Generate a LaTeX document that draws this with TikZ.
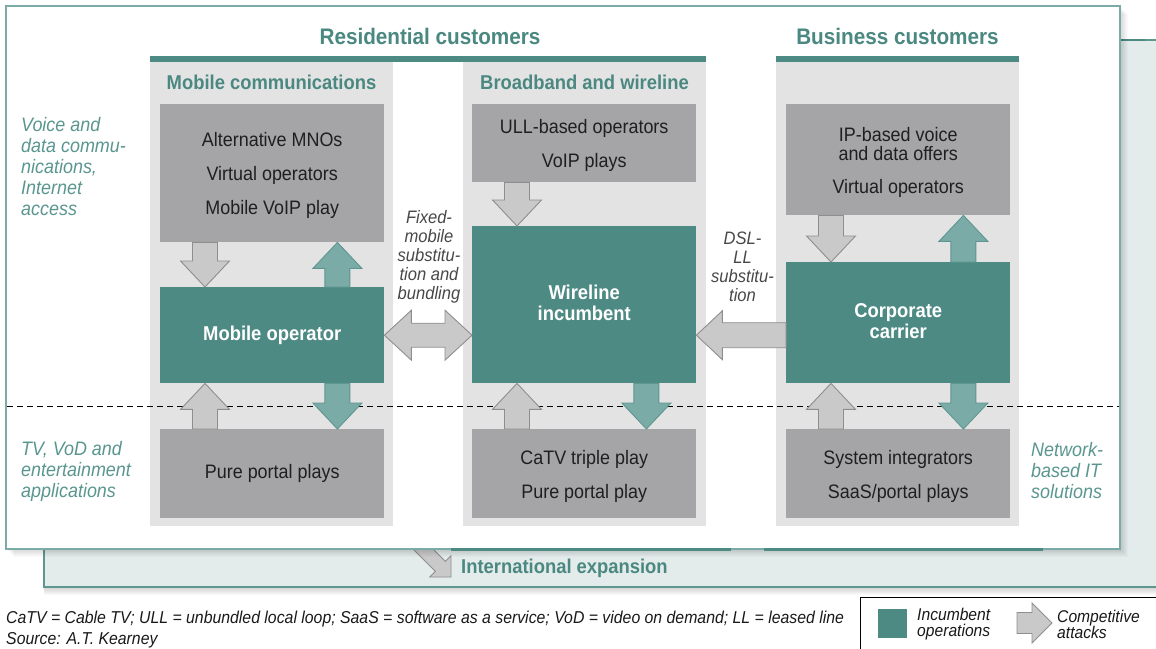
\documentclass[tikz,border=0pt]{standalone}
\usepackage{fontspec}
\setmainfont{Liberation Sans}[FakeStretch=0.92]
\usetikzlibrary{calc}

\definecolor{tealdark}{HTML}{4E8A84}
\definecolor{tealtext}{HTML}{4A8881}
\definecolor{teallight}{HTML}{7BABA6}
\definecolor{tealedge}{HTML}{5E9690}
\definecolor{boxgray}{HTML}{A5A5A7}
\definecolor{colgray}{HTML}{E3E3E3}
\definecolor{arrowgray}{HTML}{C9C9C9}
\definecolor{arrowedge}{HTML}{8E8E8E}
\definecolor{backfill}{HTML}{E3ECEB}
\definecolor{sidetext}{HTML}{5A9690}
\definecolor{notetext}{HTML}{484848}

% struts that nudge a multi-line block down (tall first line) or up (deep last line)
\newcommand\tallfirst{\rule{0pt}{19pt}}
\newcommand\deeplast{\rule[-4pt]{0pt}{4pt}}

% vertical block arrow: style, start point, tip point
\newcommand\vblock[3]{%
  \draw[#1] let \p1=#2, \p2=#3, \n1={(\y1-\y2)/abs(\y1-\y2)} in
    ({\x1-12.5pt},\y1) -- ({\x1-12.5pt},{\y2+\n1*26pt}) -- ({\x1-24.5pt},{\y2+\n1*26pt})
    -- (\x2,\y2) -- ({\x1+24.5pt},{\y2+\n1*26pt}) -- ({\x1+12.5pt},{\y2+\n1*26pt})
    -- ({\x1+12.5pt},\y1) -- cycle;}
% horizontal block arrow: style, start point, tip point
\newcommand\hblock[3]{%
  \draw[#1] let \p1=#2, \p2=#3, \n1={(\x1-\x2)/abs(\x1-\x2)} in
    (\x1,{\y1+12.5pt}) -- ({\x2+\n1*26pt},{\y1+12.5pt}) -- ({\x2+\n1*26pt},{\y1+24.5pt})
    -- (\x2,\y2) -- ({\x2+\n1*26pt},{\y1-24.5pt}) -- ({\x2+\n1*26pt},{\y1-12.5pt})
    -- (\x1,{\y1-12.5pt}) -- cycle;}
% horizontal double block arrow: style, left tip, right tip
\newcommand\dblock[3]{%
  \draw[#1] let \p1=#2, \p2=#3 in
    (\x1,\y1) -- ({\x1+27pt},{\y1+25pt}) -- ({\x1+27pt},{\y1+12pt}) -- ({\x2-27pt},{\y1+12pt})
    -- ({\x2-27pt},{\y1+25pt}) -- (\x2,\y2) -- ({\x2-27pt},{\y1-25pt}) -- ({\x2-27pt},{\y1-12pt})
    -- ({\x1+27pt},{\y1-12pt}) -- ({\x1+27pt},{\y1-25pt}) -- cycle;}

\tikzset{
  box/.style={fill=boxgray, minimum width=224pt, inner sep=0pt, anchor=north west,
    align=center, text=black!88, font=\fontsize{19.5}{34}\selectfont},
  incumbent/.style={fill=tealdark, minimum width=224pt, inner sep=0pt, anchor=north west,
    align=center, text=white, font=\bfseries\fontsize{20}{21}\selectfont},
  grayarrow/.style={fill=arrowgray, draw=arrowedge, line width=0.9pt, line join=miter},
  tealarrow/.style={fill=teallight, draw=tealedge, line width=0.9pt, line join=miter},
  bighead/.style={text=tealtext, font=\bfseries\fontsize{22.5}{24}\selectfont, inner sep=0pt},
  colhead/.style={text=tealtext, font=\bfseries\fontsize{20}{22}\selectfont, inner sep=0pt},
  sidelabel/.style={text=sidetext, font=\itshape\fontsize{19.5}{21}\selectfont,
    align=left, anchor=west, inner sep=0pt},
  arrowlabel/.style={text=notetext, font=\itshape\fontsize{18}{19}\selectfont,
    align=center, inner sep=0pt},
  footnote/.style={text=black!90, font=\itshape\fontsize{17.2}{21}\selectfont,
    anchor=west, inner sep=0pt},
  legendtext/.style={text=black!90, font=\itshape\fontsize{17}{16}\selectfont,
    align=left, anchor=west, inner sep=0pt}
}

\begin{document}
\begin{tikzpicture}[x=1pt,y=-1pt]
\useasboundingbox (0,0) rectangle (1156,648);

% rear panel with its shadow
\foreach \i in {1,...,8}
  \fill[black, opacity=0.022] (44,587) rectangle (1170,587+\i);
\draw[fill=backfill, draw=tealedge, line width=1.2pt] (44,40) rectangle (1170,587);
\draw[tealdark, line width=2pt] (1120,40) -- (1145,40);

% expansion arrow coming out from under the front panel
\draw[grayarrow] (406.45,522.55) -- (445.35,561.45) -- (451,555.8) -- (451,577)
  -- (429.8,577) -- (435.45,571.35) -- (396.55,532.45) -- cycle;
\node[text=tealtext, font=\bfseries\fontsize{20}{22}\selectfont, anchor=west, inner sep=0pt]
  (intl) at (461,568) {International expansion};

% front panel with its shadow
\foreach \i in {1,...,8}
  \fill[black, opacity=0.02] (6+\i,6+\i) rectangle (1120+\i,549+\i);
\draw[fill=white, draw=teallight, line width=2pt] (6,6) rectangle (1120,549);
\draw[tealdark, line width=3pt] (451,549.5) -- (731,549.5);
\draw[tealdark, line width=3pt] (764,549.5) -- (1043,549.5);

% column backgrounds and header bars
\fill[colgray] (150,62) rectangle (393,526);
\fill[colgray] (463,62) rectangle (706,526);
\fill[colgray] (776,62) rectangle (1019,526);
\fill[tealdark] (150,56) rectangle (706,62);
\fill[tealdark] (776,56) rectangle (1019,62);

% headers
\node[bighead] (resid) at (430,36) {Residential customers};
\node[bighead] (busi) at (897.5,36) {Business customers};
\node[colhead] (mobhead) at (271.5,82) {Mobile communications};
\node[colhead] (bbhead) at (584.5,82) {Broadband and wireline};

% segment boundary
\draw[black, line width=1pt, dash pattern=on 6pt off 4pt] (7,406) -- (1119,406);

% side labels
\node[sidelabel] (voice) at (21,167) {Voice and\\data commu-\\nications,\\Internet\\access};
\node[sidelabel] (tv) at (21,471) {TV, VoD and\\entertainment\\applications};
\node[sidelabel] (netit) at (1031,471) {Network-\\based IT\\solutions};

% mobile column
\node[box, minimum height=138pt] (mnos) at (160,104)
  {\tallfirst Alternative MNOs\\Virtual operators\\Mobile VoIP play};
\node[incumbent, minimum height=96pt] (mobop) at (160,287) {Mobile operator};
\node[box, minimum height=89pt] (mportal) at (160,429) {Pure portal plays};

% broadband column
\node[box, minimum height=78pt] (ull) at (472,104) {\tallfirst ULL-based operators\\VoIP plays};
\node[incumbent, minimum height=157pt] (wire) at (472,226) {Wireline\\incumbent\deeplast};
\node[box, minimum height=89pt] (catv) at (472,429)
  {\rule{0pt}{20pt}CaTV triple play\\Pure portal play};

% business column
\node[box, minimum height=111pt, font=\fontsize{19.5}{19}\selectfont] (ipvoice) at (786,104)
  {\tallfirst IP-based voice\\and data offers\\[14pt]Virtual operators};
\node[incumbent, minimum height=121pt] (corp) at (786,262) {Corporate\\carrier\deeplast};
\node[box, minimum height=89pt] (sysint) at (786,429)
  {\rule{0pt}{20pt}System integrators\\SaaS/portal plays};

% attacks and expansions inside the columns
\vblock{grayarrow}{([xshift=45pt]mnos.south west)}{([xshift=45pt]mobop.north west)}
\vblock{tealarrow}{([xshift=-47pt]mobop.north east)}{([xshift=-47pt]mnos.south east)}
\vblock{grayarrow}{([xshift=45pt]mportal.north west)}{([xshift=45pt]mobop.south west)}
\vblock{tealarrow}{([xshift=-47pt]mobop.south east)}{([xshift=-47pt]mportal.north east)}

\vblock{grayarrow}{([xshift=45pt]ull.south west)}{([xshift=45pt]wire.north west)}
\vblock{grayarrow}{([xshift=45pt]catv.north west)}{([xshift=45pt]wire.south west)}
\vblock{tealarrow}{([xshift=-50pt]wire.south east)}{([xshift=-50pt]catv.north east)}

\vblock{grayarrow}{([xshift=45pt]ipvoice.south west)}{([xshift=45pt]corp.north west)}
\vblock{tealarrow}{([xshift=-47pt]corp.north east)}{([xshift=-47pt]ipvoice.south east)}
\vblock{grayarrow}{([xshift=45pt]sysint.north west)}{([xshift=45pt]corp.south west)}
\vblock{tealarrow}{([xshift=-47pt]corp.south east)}{([xshift=-47pt]sysint.north east)}

% attacks between the columns
\dblock{grayarrow}{(mobop.east)}{(wire.west |- mobop.east)}
\hblock{grayarrow}{(corp.west |- mobop.east)}{(wire.east |- mobop.east)}

\node[arrowlabel] (fmlabel) at (429,257)
  {Fixed-\\mobile\\substitu-\\tion and\\bundling};
\node[arrowlabel] (dsllabel) at (742.5,266.5) {DSL-\\LL\\substitu-\\tion};

% notes
\node[footnote] (abbr) at (6,619)
  {CaTV = Cable TV; ULL = unbundled local loop; SaaS = software as a service; VoD = video on demand; LL = leased line};
\node[footnote] (src) at (6,640) {Source: A.T. Kearney};

% legend
\draw[fill=white, draw=black, line width=0.8pt] (860,597) rectangle (1170,660);
\node[fill=tealdark, minimum width=29pt, minimum height=29pt, inner sep=0pt, anchor=north west]
  (legsq) at (878,609) {};
\node[legendtext] (legi) at (917,624) {Incumbent\\operations};
\coordinate (legtail) at (1017,623);
\coordinate (legtip) at (1052,623);
\draw[grayarrow] let \p1=(legtail), \p2=(legtip) in
  (\x1,{\y1+10.5pt}) -- ({\x2-20pt},{\y1+10.5pt}) -- ({\x2-20pt},{\y1+20pt}) -- (\x2,\y2)
  -- ({\x2-20pt},{\y1-20pt}) -- ({\x2-20pt},{\y1-10.5pt}) -- (\x1,{\y1-10.5pt}) -- cycle;
\node[legendtext] (legc) at (1057,624) {Competitive\\attacks};
\end{tikzpicture}
\end{document}
